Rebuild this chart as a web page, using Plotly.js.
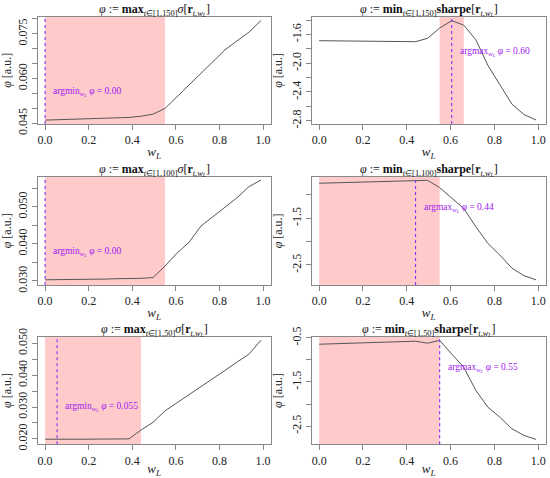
<!DOCTYPE html>
<html>
<head>
<meta charset="utf-8">
<script src="https://cdn.plot.ly/plotly-3.0.1.min.js"></script>
<style>html,body{margin:0;padding:0;background:#fff;}#plot{width:550px;height:478px;}</style>
</head>
<body>
<div id="plot"></div>
<script>
// ---- data ----
const wL = [0, 0.055, 0.11, 0.165, 0.22, 0.275, 0.33, 0.385, 0.44, 0.495, 0.55, 0.605, 0.66, 0.715, 0.77, 0.825, 0.88, 0.935, 0.99];

const maxSigma150 = [0.0461, 0.0462, 0.0463, 0.0464, 0.0465, 0.0466, 0.0468, 0.0470, 0.0474, 0.0481, 0.0500, 0.0539, 0.0578, 0.0618, 0.0657, 0.0696, 0.0726, 0.0755, 0.0794];
const minSharpe150 = [-1.686, -1.687, -1.688, -1.689, -1.690, -1.692, -1.694, -1.697, -1.700, -1.653, -1.510, -1.407, -1.470, -1.672, -2.030, -2.300, -2.570, -2.715, -2.790];
const maxSigma100 = [0.0303, 0.0303, 0.0304, 0.0304, 0.0305, 0.0305, 0.0306, 0.0306, 0.0307, 0.0309, 0.0340, 0.0375, 0.0404, 0.0448, 0.0473, 0.0498, 0.0524, 0.0554, 0.0572];
const minSharpe100 = [-0.750, -0.742, -0.734, -0.726, -0.718, -0.710, -0.702, -0.694, -0.684, -0.688, -0.845, -1.070, -1.290, -1.680, -2.040, -2.290, -2.570, -2.730, -2.820];
const maxSigma50 = [0.0199, 0.0198, 0.0199, 0.0199, 0.0199, 0.0199, 0.0200, 0.0200, 0.0228, 0.0252, 0.0288, 0.0313, 0.0339, 0.0364, 0.0390, 0.0415, 0.0441, 0.0466, 0.0510];
const minSharpe50 = [-0.648, -0.640, -0.630, -0.620, -0.610, -0.600, -0.592, -0.586, -0.580, -0.625, -0.560, -0.870, -1.170, -1.690, -2.070, -2.300, -2.560, -2.710, -2.800];

const shadeStart = [0, 0.55, 0, 0, 0, 0];
const shadeEnd = [0.55, 0.66, 0.55, 0.55, 0.44, 0.55];
const argVal = [0, 0.605, 0, 0.44, 0.055, 0.55];
const argLabel = ["argmin", "argmax", "argmin", "argmax", "argmin", "argmax"];
const argText = ["0.00", "0.60", "0.00", "0.44", "0.055", "0.55"];
const windows = ["[1,150]", "[1,150]", "[1,100]", "[1,100]", "[1,50]", "[1,50]"];
const measures = ["max", "min", "max", "min", "max", "min"];

const xTickVals = [0, 0.2, 0.4, 0.6, 0.8, 1.0];
const xTickText = ["0.0", "0.2", "0.4", "0.6", "0.8", "1.0"];

const yLabels1 = ["0.045", "0.060", "0.075"];
const yLabels2 = ["-2.8", "-2.4", "-2.0", "-1.6"];
const yLabels3 = ["0.030", "0.040", "0.050"];
const yLabels4 = ["-2.5", "-1.5"];
const yLabels5 = ["0.020", "0.030", "0.040", "0.050"];
const yLabels6 = ["-2.5", "-1.5", "-0.5"];
const yMinorStep = [0.005, 0.2, 0.005, 0.5, 0.005, 0.5];

// ---- layout helpers ----
const series = [maxSigma150, minSharpe150, maxSigma100, minSharpe100, maxSigma50, minSharpe50];
const yLabels = [yLabels1, yLabels2, yLabels3, yLabels4, yLabels5, yLabels6];
const yRanges = [[0.0448, 0.0807], [-2.846, -1.352], [0.0289, 0.0581], [-2.93, -0.61], [0.0183, 0.0521], [-2.91, -0.478]];
const annPos = [[0.027, 0.0556], [0.632, -1.848], [0.027, 0.0379], [0.469, -1.286], [0.084, 0.0300], [0.579, -1.19]];

const W = 550, H = 478;
const colPx = [[37.7, 270.5], [311.7, 545.7]];
const rowPx = [[16.7, 124], [176.7, 285], [336.7, 444.3]];
const titleY = [10, 170, 330];

const FONT = "Liberation Serif";
const PURPLE = "#a020f0";

const traces = [];
const layout = {
  width: W, height: H,
  margin: {l: 0, r: 0, t: 0, b: 0},
  paper_bgcolor: "#fff", plot_bgcolor: "#fff",
  showlegend: false,
  font: {family: FONT, size: 11, color: "#222"},
  shapes: [], annotations: []
};

for (let i = 0; i < 6; i++) {
  const r = Math.floor(i / 2), c = i % 2;
  const n = i + 1;
  const xa = "x" + (n === 1 ? "" : n), ya = "y" + (n === 1 ? "" : n);
  const xk = "xaxis" + (n === 1 ? "" : n), yk = "yaxis" + (n === 1 ? "" : n);
  traces.push({
    x: wL, y: series[i], xaxis: xa, yaxis: ya, type: "scatter", mode: "lines",
    line: {color: "#555", width: 1}, hoverinfo: "skip"
  });
  layout[xk] = {
    domain: [colPx[c][0] / W, colPx[c][1] / W],
    anchor: ya, range: [-0.034, 1.034],
    tickvals: xTickVals, ticktext: xTickText,
    ticks: "outside", ticklen: 5, tickcolor: "#888", tickwidth: 1,
    showline: true, mirror: true, linecolor: "#888", linewidth: 1,
    showgrid: false, zeroline: false,
    tickfont: {family: FONT, size: 12, color: "#222"},
    title: {text: "<i>w</i><sub><i>L</i></sub>", font: {family: FONT, size: 13, color: "#222"}, standoff: 0}
  };
  layout[yk] = {
    domain: [1 - rowPx[r][1] / H, 1 - rowPx[r][0] / H],
    anchor: xa, range: yRanges[i],
    tickmode: "array",
    tickvals: yLabels[i].map(Number), ticktext: yLabels[i], tickangle: -90,
    ticks: "outside", ticklen: 5, tickcolor: "#888", tickwidth: 1,
    minor: {dtick: yMinorStep[i], tick0: 0, ticks: "outside", ticklen: 5, tickcolor: "#888", tickwidth: 1, showgrid: false},
    showline: true, mirror: true, linecolor: "#888", linewidth: 1,
    showgrid: false, zeroline: false,
    tickfont: {family: FONT, size: 12, color: "#222"},
    title: {text: "<i>φ</i> [a.u.]", font: {family: FONT, size: 12, color: "#222"}, standoff: 4}
  };
  layout.shapes.push({
    type: "rect", xref: xa, yref: ya + " domain", x0: shadeStart[i], x1: shadeEnd[i], y0: 0, y1: 1,
    fillcolor: "#ffcaca", line: {width: 0}, layer: "below"
  });
  layout.shapes.push({
    type: "line", xref: xa, yref: ya + " domain", x0: argVal[i], x1: argVal[i], y0: 0, y1: 1,
    line: {color: "#8030f0", width: 1.1, dash: "dot"}, layer: "above"
  });
  layout.annotations.push({
    xref: xa, yref: ya, x: annPos[i][0], y: annPos[i][1], xanchor: "left", yanchor: "middle",
    showarrow: false,
    text: argLabel[i] + "<sub><i>w<sub>L</sub></i></sub> <i>φ</i> = " + argText[i],
    font: {family: FONT, size: 9.5, color: PURPLE}
  });
  layout.annotations.push({
    xref: "paper", yref: "paper",
    x: (colPx[c][0] + colPx[c][1]) / 2 / W, y: 1 - titleY[r] / H,
    xanchor: "center", yanchor: "middle", showarrow: false,
    text: "<i>φ</i> := <b>" + measures[i] + "</b><sub><i>t</i>∈" + windows[i] + "</sub>" +
          (i % 2 === 0 ? "<i>σ</i>" : "<b>sharpe</b>") +
          "[<b>r</b><sub><i>t,w<sub>L</sub></i></sub>]",
    font: {family: FONT, size: 12, color: "#111"}
  });
}

Plotly.newPlot("plot", traces, layout, {staticPlot: true, displayModeBar: false});
</script>
</body>
</html>
